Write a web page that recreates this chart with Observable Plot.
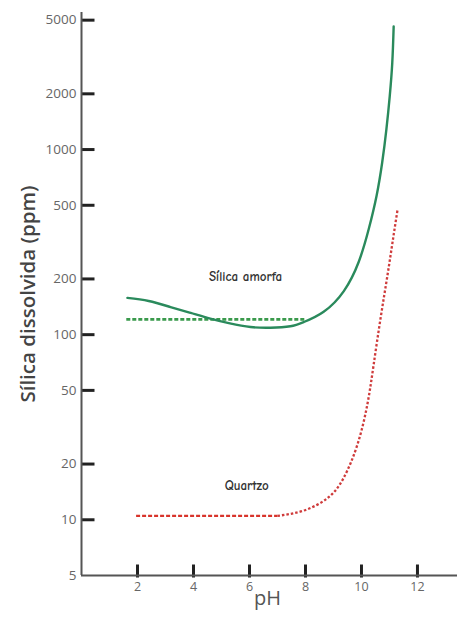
<!DOCTYPE html>
<html>
<head>
<meta charset="utf-8">
<script src="https://cdn.jsdelivr.net/npm/d3@7"></script>
<script src="https://cdn.jsdelivr.net/npm/@observablehq/plot@0.6"></script>
<style>
  html, body { margin: 0; padding: 0; background: #fff; }
  #chart svg { display: block; }
</style>
</head>
<body>
<div id="chart"></div>
<script>
// Sílica amorfa — solubility curve (solid)
const amorfaPH  = [1.64, 2.4, 3.18, 3.9, 4.6, 5.3, 6.04, 6.75, 7.46, 7.94, 8.65, 9.37, 9.90, 10.26, 10.54, 10.74, 10.89, 11.01, 11.10, 11.15];
const amorfaVal = [158, 152, 141, 131, 122, 115, 110, 109, 111, 117, 133, 172, 247, 372, 563, 851, 1285, 1945, 2940, 4620];
// Sílica amorfa — constant level (dashed)
const amorfaFlatPH  = [1.6, 8.0];
const amorfaFlatVal = [121, 121];
// Quartzo — flat part (dashed) and rising part (dotted)
const quartzFlatPH  = [1.95, 7.0];
const quartzFlatVal = [10.5, 10.5];
const quartzPH  = [7.0, 7.93, 8.79, 9.36, 9.86, 10.21, 10.43, 10.68, 10.93, 11.11, 11.29];
const quartzVal = [10.5, 11.2, 13.1, 16.8, 25.6, 42, 68, 122, 210, 316, 475];
// axis ticks
const yTicks = [5, 10, 20, 50, 100, 200, 500, 1000, 2000, 5000];
const xTicks = [2, 4, 6, 8, 10, 12];
// labels
const labels = [
  {pH: 5.86, v: 205, text: "Sílica amorfa"},
  {pH: 5.9, v: 15.2, text: "Quartzo"}
];

const amorfa = amorfaPH.map((x, i) => ({x, y: amorfaVal[i]}));
const amorfaFlat = amorfaFlatPH.map((x, i) => ({x, y: amorfaFlatVal[i]}));
const quartzFlat = quartzFlatPH.map((x, i) => ({x, y: quartzFlatVal[i]}));
const quartz = quartzPH.map((x, i) => ({x, y: quartzVal[i]}));

const W = 457, H = 618, mL = 81, mR = 0, mT = 12, mB = 43;
const xDomain = [0, 13.43], yDomain = [5, 5500];
const tickFont = "'Open Sans', sans-serif";
const noteFont = "'Comic Sans MS', 'Comic Neue', 'DejaVu Sans', sans-serif";

const xScale = d3.scaleLinear(xDomain, [mL, W - mR]);
const yScale = d3.scaleLog(yDomain, [H - mB, mT]);
const yTickEnd = xScale.invert(mL + 13);
const xTickTop = yScale.invert(H - mB - 11);
const xTickBottom = yScale.invert(H - mB + 2);

const yTickRows = yTicks.filter(d => d > 5).map(v => ({v}));
const xTickRows = xTicks.map(p => ({p}));

const chart = Plot.plot({
  width: W,
  height: H,
  marginLeft: mL,
  marginRight: mR,
  marginTop: mT,
  marginBottom: mB,
  style: {background: "#fff", color: "#555"},
  x: {domain: xDomain},
  y: {type: "log", domain: yDomain},
  marks: [
    Plot.axisY(yTicks, {tickSize: 0, tickPadding: 5, fontSize: 13.5, fontFamily: tickFont, fill: "#666", label: null, tickFormat: d => String(d)}),
    Plot.axisX(xTicks, {tickSize: 0, tickPadding: 7, fontSize: 12.5, fontFamily: tickFont, fill: "#666", label: null}),
    Plot.link(yTickRows, {x1: () => xDomain[0], x2: () => yTickEnd, y1: "v", y2: "v", stroke: "#222", strokeWidth: 3}),
    Plot.link(xTickRows, {x1: "p", x2: "p", y1: () => xTickBottom, y2: () => xTickTop, stroke: "#222", strokeWidth: 3}),
    Plot.ruleX([xDomain[0]], {stroke: "#555", strokeWidth: 2}),
    Plot.ruleY([yDomain[0]], {stroke: "#555", strokeWidth: 2}),
    Plot.line(amorfaFlat, {x: "x", y: "y", stroke: "#3a9a4c", strokeWidth: 2.8, strokeDasharray: "4,2", strokeLinecap: "butt"}),
    Plot.line(amorfa, {x: "x", y: "y", stroke: "#2a8a5c", strokeWidth: 2.4, curve: "natural"}),
    Plot.line(quartzFlat, {x: "x", y: "y", stroke: "#d8342b", strokeWidth: 2.3, strokeDasharray: "4,2", strokeLinecap: "butt"}),
    Plot.line(quartz, {x: "x", y: "y", stroke: "#cf3b3b", strokeWidth: 2.3, strokeDasharray: "2.5,2", strokeLinecap: "butt", curve: "natural"}),
    Plot.text(labels, {x: "pH", y: "v", text: "text", fontSize: 13, fill: "#333", fontFamily: noteFont, fontWeight: 700}),
    Plot.text(["Sílica dissolvida (ppm)"], {frameAnchor: "left", textAnchor: "middle", rotate: -90, dx: -53, fontSize: 20.5, fontWeight: 600, fill: "#444", fontFamily: tickFont}),
    Plot.text(["pH"], {frameAnchor: "bottom", textAnchor: "middle", dy: 29, dx: -2, fontSize: 20, fill: "#555", fontFamily: tickFont})
  ]
});
document.getElementById("chart").appendChild(chart);
</script>
</body>
</html>
